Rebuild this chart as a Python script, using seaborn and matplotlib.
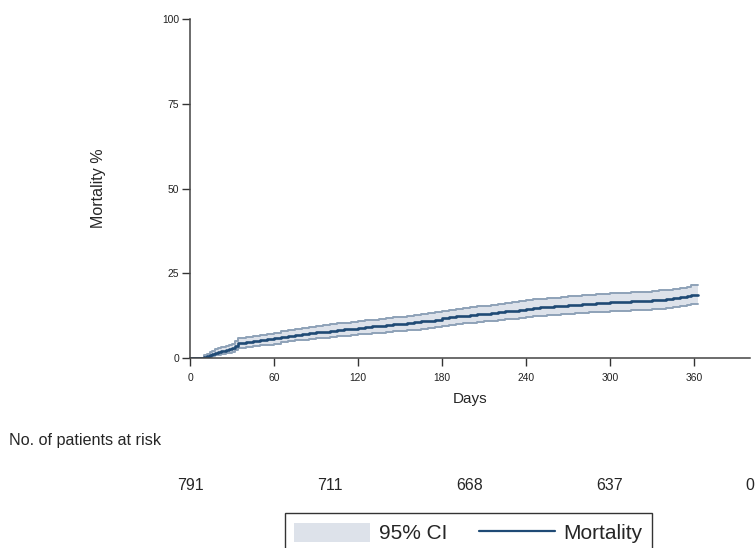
import matplotlib
matplotlib.use("Agg")
import matplotlib.pyplot as plt
import matplotlib.transforms as mtransforms
import seaborn as sns
import pandas as pd
from matplotlib.patches import Patch
from matplotlib.lines import Line2D

# cumulative mortality (%) with 95% CI
days = [0, 7, 10, 12, 14, 16, 18, 20, 22, 24, 26, 28, 30, 32, 34,
        35, 40, 45, 50, 55, 60, 65, 70, 75, 80, 85, 90, 95, 100, 105, 110, 115, 120,
        125, 130, 135, 140, 145, 150, 155, 160, 165, 170, 175, 180, 185, 190, 195, 200,
        205, 210, 215, 220, 225, 230, 235, 240, 245, 250, 255, 260, 265, 270, 275, 280,
        285, 290, 295, 300, 305, 310, 315, 320, 325, 330, 335, 340, 345, 350, 355, 358, 363]
mortality = [0, 0, 0.2, 0.5, 0.9, 1.3, 1.6, 1.9, 2.0, 2.2, 2.4, 2.6, 2.9, 3.6, 4.3,
             4.4, 4.7, 4.9, 5.2, 5.5, 5.8, 6.3, 6.6, 6.9, 7.1, 7.4, 7.6, 7.8, 8.1, 8.3, 8.5,
             8.7, 8.9, 9.1, 9.3, 9.5, 9.7, 9.9, 10.1, 10.3, 10.5, 10.8, 11.0, 11.3, 11.7,
             12.0, 12.3, 12.5, 12.7, 12.9, 13.1, 13.3, 13.5, 13.8, 14.0, 14.3, 14.6, 14.8,
             15.0, 15.1, 15.3, 15.4, 15.6, 15.7, 15.9, 16.0, 16.2, 16.3, 16.4, 16.5, 16.6,
             16.7, 16.8, 16.9, 17.0, 17.2, 17.4, 17.6, 17.9, 18.2, 18.5, 18.5]
ci_low = [0, 0, 0, 0, 0.3, 0.6, 0.8, 1.0, 1.1, 1.2, 1.4, 1.5, 1.7, 2.3, 2.9,
          3.0, 3.2, 3.4, 3.7, 3.9, 4.2, 4.6, 4.9, 5.2, 5.4, 5.6, 5.8, 6.0, 6.3, 6.5, 6.6,
          6.8, 7.0, 7.2, 7.3, 7.5, 7.7, 7.9, 8.1, 8.2, 8.4, 8.7, 8.9, 9.1, 9.5, 9.8, 10.1,
          10.3, 10.4, 10.6, 10.8, 11.0, 11.2, 11.4, 11.6, 11.9, 12.2, 12.3, 12.5, 12.6,
          12.8, 12.9, 13.1, 13.2, 13.4, 13.5, 13.6, 13.7, 13.8, 13.9, 14.0, 14.1, 14.2,
          14.3, 14.4, 14.5, 14.7, 14.9, 15.2, 15.5, 15.8, 15.8]
ci_high = [0, 0, 0.8, 1.2, 1.7, 2.2, 2.6, 2.9, 3.1, 3.3, 3.5, 3.8, 4.2, 4.9, 5.8,
           5.9, 6.2, 6.5, 6.8, 7.1, 7.4, 8.0, 8.3, 8.6, 8.9, 9.2, 9.4, 9.6, 10.0, 10.2,
           10.4, 10.6, 10.9, 11.1, 11.3, 11.5, 11.7, 12.0, 12.2, 12.4, 12.6, 13.0, 13.2,
           13.5, 13.9, 14.3, 14.6, 14.8, 15.0, 15.2, 15.4, 15.7, 15.9, 16.2, 16.4, 16.8,
           17.1, 17.3, 17.5, 17.6, 17.8, 17.9, 18.2, 18.3, 18.5, 18.6, 18.8, 18.9, 19.1,
           19.2, 19.3, 19.4, 19.5, 19.6, 19.8, 20.0, 20.2, 20.4, 20.7, 21.0, 21.4, 21.4]

x_ticks = [0, 60, 120, 180, 240, 300, 360]
y_ticks = [0, 25, 50, 75, 100]
risk_days = [0, 100, 200, 300, 400]
at_risk = ["791", "711", "668", "637", "0"]

df = pd.DataFrame({"Days": days, "Mortality": mortality, "lo": ci_low, "hi": ci_high})

sns.set_style("ticks")
plt.rcParams["font.family"] = ["Liberation Sans", "DejaVu Sans"]

line_col = "#1f4a75"
band_col = "#dde2ea"
edge_col = "#8ea2b8"

fig = plt.figure(figsize=(7.55, 5.48), dpi=100)
ax = fig.add_axes([0.2517, 0.3467, 0.7413, 0.6186])

ax.fill_between(df["Days"], df["lo"], df["hi"], step="post", color=band_col, lw=0)
sns.lineplot(data=df, x="Days", y="lo", ax=ax, color=edge_col, lw=1.4, drawstyle="steps-post")
sns.lineplot(data=df, x="Days", y="hi", ax=ax, color=edge_col, lw=1.4, drawstyle="steps-post")
sns.lineplot(data=df, x="Days", y="Mortality", ax=ax, color=line_col, lw=1.9,
             drawstyle="steps-post")

ax.set_xlim(0, 400)
ax.set_ylim(0, 100)
ax.set_xticks(x_ticks)
ax.set_yticks(y_ticks)
ax.tick_params(labelsize=7.4, length=6, width=1, colors="#333333", labelcolor="#222222")
ax.tick_params(axis="x", pad=5)
ax.tick_params(axis="y", pad=2)
for s in ["left", "bottom"]:
    ax.spines[s].set_color("#444444")
    ax.spines[s].set_linewidth(1.1)
sns.despine(ax=ax)
ax.set_xlabel("Days", fontsize=11, labelpad=6)
ax.set_ylabel("Mortality %", fontsize=11.5, labelpad=40)

fig.text(9 / 755, 1 - 440 / 548, "No. of patients at risk", fontsize=11.6, va="center")
trans = mtransforms.blended_transform_factory(ax.transData, fig.transFigure)
for d, lab in zip(risk_days, at_risk):
    ax.text(d, 1 - 485 / 548, lab, transform=trans, fontsize=11.5, va="center",
            ha="center", clip_on=False)

handles = [Patch(facecolor=band_col, edgecolor="none"),
           Line2D([0], [0], color=line_col, lw=1.6)]
leg = fig.legend(handles, ["95% CI", "Mortality"], loc="upper center",
                 bbox_to_anchor=(0.6205, 0.0633), ncol=2, fontsize=15, frameon=True,
                 fancybox=False, handlelength=3.65, handleheight=1.04, columnspacing=1.55,
                 borderpad=0.45, handletextpad=0.4, borderaxespad=0)
leg.get_frame().set_edgecolor("black")
leg.get_frame().set_linewidth(1.0)

fig.savefig("out.png", dpi=100)
